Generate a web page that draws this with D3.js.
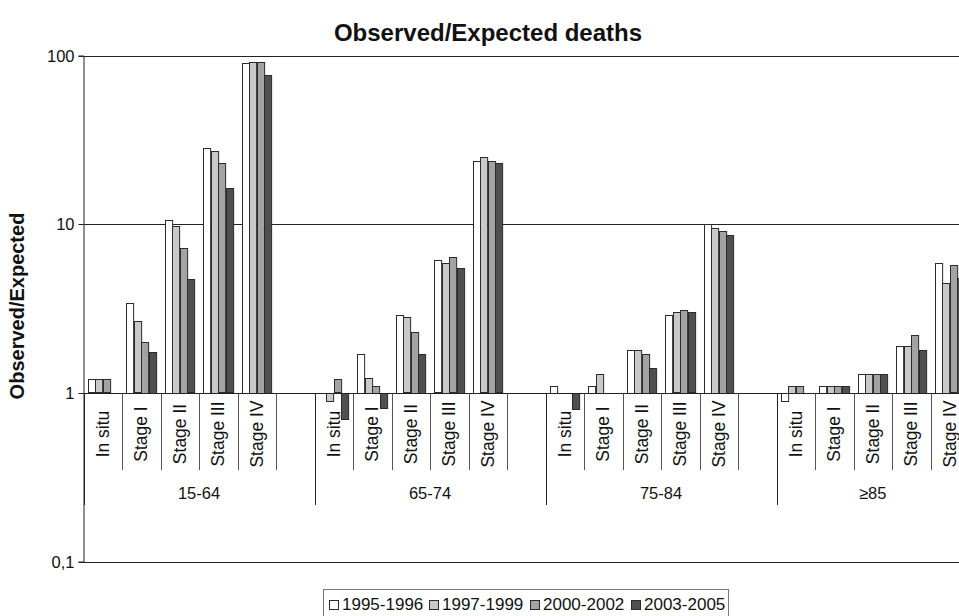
<!DOCTYPE html>
<html>
<head>
<meta charset="utf-8">
<script src="https://cdn.jsdelivr.net/npm/d3@7"></script>
<style>
  html, body { margin: 0; padding: 0; background: #fff; }
  svg { display: block; font-family: "Liberation Sans", Arial, sans-serif; }
</style>
</head>
<body>
<svg id="chart" width="959" height="616"></svg>
<script>
// ---- data ----
const groups = ["15-64", "65-74", "75-84", "\u226585"];
const stages = ["In situ", "Stage I", "Stage II", "Stage III", "Stage IV"];
const series = ["1995-1996", "1997-1999", "2000-2002", "2003-2005"];
const yTicks = [0.1, 1, 10, 100];
const yTickLabels = ["0,1", "1", "10", "100"];
// values in group-major order: 15-64 (5 stages), 65-74, 75-84, >=85
const v1995 = [1.2, 3.4, 10.6, 28.3, 90,   null, 1.7, 2.9, 6.1, 23.6,   1.1, 1.1, 1.8, 2.9, 10.0,   0.9, 1.1, 1.3, 1.9, 5.9];
const v1997 = [1.2, 2.65, 9.8, 27.3, 92,   0.9, 1.22, 2.8, 5.9, 24.9,   null, 1.3, 1.8, 3.0, 9.5,   1.1, 1.1, 1.3, 1.9, 4.5];
const v2000 = [1.2, 2.0, 7.2, 22.9, 92,    1.2, 1.1, 2.3, 6.35, 23.6,   null, null, 1.7, 3.1, 9.1,  1.1, 1.1, 1.3, 2.2, 5.7];
const v2003 = [null, 1.75, 4.7, 16.3, 77,  0.7, 0.81, 1.7, 5.5, 22.9,   0.8, null, 1.4, 3.0, 8.6,  null, 1.1, 1.3, 1.8, 4.8];
const seriesValues = [v1995, v1997, v2000, v2003];
const colors = ["#ffffff", "#c9c9c9", "#a3a3a3", "#4f4f4f"];

// ---- layout ----
const svg = d3.select("#chart");
const plotLeft = 83.5, plotTop = 55.5, plotBottom = 561.5;
const slotW = 38.5;

const slots = [];
groups.forEach((g, gi) => {
  stages.forEach(s => slots.push(g + "|" + s));
  if (gi < groups.length - 1) slots.push(g + "|gap");
});
const plotRight = plotLeft + slotW * slots.length;

const y = d3.scaleLog().domain([0.1, 100]).range([plotBottom, plotTop]);
const x = d3.scaleBand().domain(slots).range([plotLeft, plotRight]).padding(0);
const xs = d3.scaleBand().domain(series).range([4, slotW - 4]).padding(0);

const ink = "#222";

// gridlines at 10 and 100, and bottom line at 0.1
svg.append("g").selectAll("line").data([0.1, 10, 100]).join("line")
  .attr("x1", plotLeft).attr("x2", plotRight)
  .attr("y1", d => Math.round(y(d)) + 0.5).attr("y2", d => Math.round(y(d)) + 0.5)
  .attr("stroke", ink).attr("stroke-width", 1);

// y axis
const yAxis = d3.axisLeft(y).tickValues(yTicks).tickSize(5).tickPadding(4)
  .tickFormat((d, i) => yTickLabels[i]);
const yg = svg.append("g").attr("transform", `translate(${plotLeft},0)`).call(yAxis);
yg.select(".domain").attr("stroke", ink);
yg.selectAll(".tick line").attr("stroke", ink);
yg.selectAll(".tick text").attr("font-size", 16.5).attr("fill", "#111")
  .attr("font-family", "Liberation Sans, Arial, sans-serif");
yg.selectAll(".tick").attr("transform", d => `translate(0,${Math.round(y(d)) + 0.5})`);

// bars
const base = y(1);
const barData = [];
seriesValues.forEach((vals, si) => {
  vals.forEach((v, i) => {
    if (v == null) return;
    const g = groups[Math.floor(i / stages.length)];
    const s = stages[i % stages.length];
    barData.push({ key: g + "|" + s, series: series[si], si, v });
  });
});
svg.append("g").selectAll("rect").data(barData).join("rect")
  .attr("x", d => Math.round(x(d.key) + xs(d.series)) + 0.5)
  .attr("width", xs.bandwidth() - 0.5)
  .attr("y", d => Math.round(Math.min(y(d.v), base)) + 0.5)
  .attr("height", d => Math.round(Math.abs(y(d.v) - base)))
  .attr("fill", d => colors[d.si])
  .attr("stroke", "#2b2b2b").attr("stroke-width", 1);

// category axis line at 1
const baseY = Math.round(base) + 0.5;
svg.append("line").attr("x1", plotLeft).attr("x2", plotRight)
  .attr("y1", baseY).attr("y2", baseY).attr("stroke", ink);

// separators
const sepData = slots.map((k, i) => ({ xPos: x(k), groupStart: i === 0 || slots[i - 1].endsWith("|gap") }));
sepData.push({ xPos: plotRight, groupStart: true });
svg.append("g").selectAll("line").data(sepData).join("line")
  .attr("x1", d => Math.round(d.xPos) + 0.5).attr("x2", d => Math.round(d.xPos) + 0.5)
  .attr("y1", baseY).attr("y2", d => d.groupStart ? 505 : 470)
  .attr("stroke", d => d.groupStart ? ink : "#555").attr("stroke-width", 1);

// stage labels
const stageSlots = slots.filter(k => !k.endsWith("|gap"));
svg.append("g").selectAll("text").data(stageSlots).join("text")
  .attr("transform", d => `translate(${x(d) + x.bandwidth() / 2},434) rotate(-90)`)
  .attr("text-anchor", "middle").attr("dy", "0.35em")
  .attr("font-size", 17.5).attr("fill", "#111")
  .text(d => d.split("|")[1]);

// group labels
svg.append("g").selectAll("text").data(groups).join("text")
  .attr("x", g => {
    const ks = slots.filter(k => k.startsWith(g + "|"));
    return (x(ks[0]) + x(ks[ks.length - 1]) + x.bandwidth()) / 2;
  })
  .attr("y", 498.5).attr("text-anchor", "middle")
  .attr("font-size", 16.5).attr("fill", "#111")
  .text(g => g);

// title
svg.append("text").attr("x", 488).attr("y", 41).attr("text-anchor", "middle")
  .attr("font-size", 24).attr("font-weight", "bold").attr("fill", "#111")
  .text("Observed/Expected deaths");

// y axis title
svg.append("text").attr("transform", "translate(24,306) rotate(-90)")
  .attr("text-anchor", "middle")
  .attr("font-size", 20).attr("font-weight", "bold").attr("fill", "#111")
  .text("Observed/Expected");

// legend
const legX = 323.5, legY = 589.5, legW = 405, legH = 30, legStep = 100.7;
svg.append("rect").attr("x", legX).attr("y", legY).attr("width", legW).attr("height", legH)
  .attr("fill", "#fff").attr("stroke", "#777");
const leg = svg.append("g").selectAll("g").data(series).join("g")
  .attr("transform", (d, i) => `translate(${Math.round(legX + 5 + i * legStep)},0)`);
leg.append("rect").attr("x", 0.5).attr("y", 600.5).attr("width", 9).attr("height", 9)
  .attr("fill", (d, i) => colors[i]).attr("stroke", "#2b2b2b");
leg.append("text").attr("x", 13).attr("y", 610).attr("font-size", 17).attr("fill", "#111")
  .text(d => d);
</script>
</body>
</html>
